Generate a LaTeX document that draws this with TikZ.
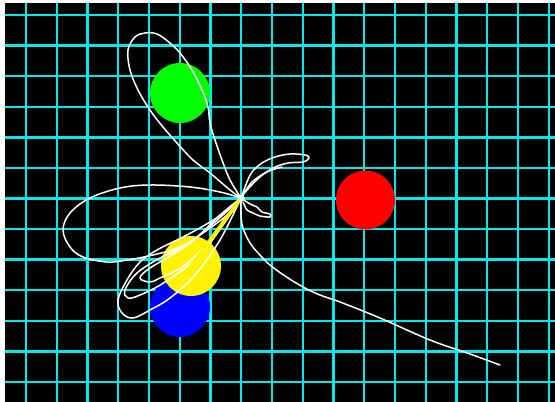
\documentclass[tikz,border=0pt]{standalone}
\begin{document}
\begin{tikzpicture}[x=1pt,y=-1pt,
  gridline/.style={draw=gridcyan,line width=2.4pt},
  trace/.style={draw=white,line width=1.5pt,line join=round,line cap=round},
  ball/.style={fill=#1,draw=none}]
\definecolor{gridcyan}{RGB}{0,235,235}
\useasboundingbox (0,0) rectangle (555,402);
\fill[white] (0,0) rectangle (555,402);
\fill[black] (5,3) rectangle (555,402);
% grid
\foreach \i in {0,...,17} \draw[gridline] ({26+30.75*\i},3) -- ({26+30.75*\i},402);
\foreach \j in {0,...,12} \draw[gridline] (5,{15+30.58*\j}) -- (555,{15+30.58*\j});
% magnets
\fill[ball=blue] (180,307) circle (30);
\fill[ball=yellow] (191,266) circle (30);
\fill[ball=green] (180,93) circle (30);
\fill[ball=red] (365.5,200) circle (29.5);
\coordinate (pivot) at (241,198);
\coordinate (bob) at (191,266);
% trace: loop round the green magnet
\draw[trace] plot[smooth,tension=0.6] coordinates {(pivot) (230,190) (210,173) (193,160) (177,143) (163,127) (150,110) (138,90) (130,70) (128,50) (135,37) (145,33) (157,34) (170,43) (180,53) (192,70) (202,90) (208,107) (210,123) (215,140) (222,160) (230,180) (pivot)};
% loop upper right
\draw[trace] plot[smooth,tension=0.6] coordinates {(pivot) (247,182) (252,172) (262,163) (275,157) (290,154) (305,155) (309,158) (303,162) (288,163) (273,168) (260,177) (248,189) (pivot)};
\draw[trace] plot[smooth,tension=0.6] coordinates {(pivot) (252,182) (267,172) (282,167)};
% small hook right
\draw[trace] plot[smooth,tension=0.5] coordinates {(pivot) (250,204) (257,207) (262,212) (270,214) (270,217) (260,216) (253,213) (247,210) (243,202)};
% tail
\draw[trace] plot[smooth,tension=0.6] coordinates {(pivot) (241,215) (243,228) (250,243) (260,255) (270,265) (285,276) (303,287) (320,295) (340,302) (380,318) (430,340) (470,354) (500,365)};
% big left loop
\draw[trace] plot[smooth,tension=0.6] coordinates {(pivot) (220,192) (190,187) (150,185) (120,188) (90,198) (70,213) (63,230) (70,247) (83,257) (107,262) (127,260) (153,255) (180,247) (203,233) (227,215) (pivot)};
% loops round yellow and blue
\draw[trace] plot[smooth,tension=0.6] coordinates {(pivot) (225,212) (205,225) (183,237) (157,250) (140,262) (127,280) (118,300) (122,313) (133,318) (150,310) (170,298) (195,275) (220,240) (pivot)};
\draw[trace] plot[smooth,tension=0.6] coordinates {(pivot) (220,215) (190,243) (160,258) (137,273) (125,290) (128,298) (140,295) (165,282) (200,255) (230,215) (pivot)};
\draw[trace] plot[smooth,tension=0.6] coordinates {(pivot) (215,222) (180,250) (150,268) (140,278) (150,282) (160,278) (185,265) (215,235) (pivot)};
% string and pivot
\draw[draw=yellow,line width=3.5pt] (pivot) -- (bob);
\fill[white] (pivot) circle (3.5);
\end{tikzpicture}
\end{document}
